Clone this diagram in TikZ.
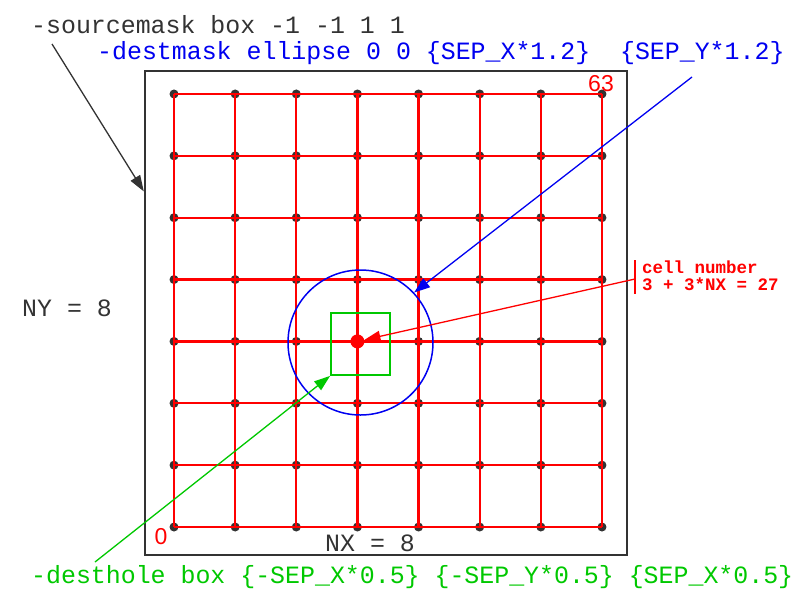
\documentclass[tikz,border=0pt]{standalone}
\usepackage{fontspec}
\setmainfont{Liberation Mono}
\newfontfamily\numfont{Liberation Sans}
\usetikzlibrary{arrows.meta,calc}

\begin{document}
\begin{tikzpicture}[x=1pt,y=-1pt,
	gridline/.style={red,line width=2.4pt},
	gridpt/.style={circle,fill=framegray,inner sep=0pt,minimum size=9pt},
	callout/.style={line width=1.3pt,-{Triangle[length=16pt,width=11pt]}},
	bigtext/.style={font=\fontsize{24.9}{26}\selectfont,inner sep=0pt,anchor=west}]
	\definecolor{framegray}{HTML}{333333}
	\definecolor{maskblue}{HTML}{0000F0}
	\definecolor{holegreen}{HTML}{00C800}
	\useasboundingbox (0,0) rectangle (800,600);
	\node[draw=framegray,line width=2.4pt,minimum width=482pt,minimum height=484pt,inner sep=0pt] (frame) at (386,313) {};
	% 8 x 8 grid, cell 0 bottom left
	\foreach \i in {0,...,7}
		\foreach \j in {0,...,7}
			\node[gridpt] (p\i\j) at (174+61.14*\i, 527-61.86*\j) {};
	\foreach \i in {0,...,7}{
		\draw[gridline] (p\i0.center) -- (p\i7.center);
		\draw[gridline] (p0\i.center) -- (p7\i.center);
	}
	\node[text=red,font=\numfont\fontsize{23}{23}\selectfont,inner sep=0pt] (last) at (601,84) {63};
	\node[text=red,font=\numfont\fontsize{23}{23}\selectfont,inner sep=0pt] (first) at (161,537) {0};
	\node[draw=maskblue,circle,line width=1.5pt,minimum size=145pt,inner sep=0pt] (destmask) at (360.5,342.5) {};
	\node[draw=holegreen,line width=1.8pt,minimum width=59pt,minimum height=62pt,inner sep=0pt] (desthole) at (360.5,344) {};
	\node[circle,fill=red,minimum size=14pt,inner sep=0pt] (cell) at (p33) {};
	% labels
	\node[bigtext,text=framegray] (srctext) at (31,25) {-sourcemask box -1 -1 1 1};
	\node[bigtext,text=maskblue] (dsttext) at (97,53) {-destmask ellipse 0 0 \{SEP\_X*1.2\}\ \ \{SEP\_Y*1.2\}};
	\node[bigtext,text=holegreen] (holetext) at (31,577) {-desthole box \{-SEP\_X*0.5\} \{-SEP\_Y*0.5\} \{SEP\_X*0.5\}};
	\node[bigtext,text=framegray] (nytext) at (22,308) {NY = 8};
	\node[bigtext,text=framegray] (nxtext) at (325,543) {NX = 8};
	\node[text=red,font=\bfseries\fontsize{17.5}{17}\selectfont,align=left,anchor=west,inner sep=0pt] (celltext) at (642,276) {cell number\\3 + 3*NX = 27};
	\draw[red,line width=1.5pt] (635,260) -- (635,294);
	% arrows
	\coordinate (srcfoot) at (52,44);
	\coordinate (dstfoot) at (692,77);
	\coordinate (cellfoot) at (635,279);
	\coordinate (holefoot) at (95,562);
	\draw[callout,framegray] (srcfoot) -- ($(frame.north west)!0.25!(frame.south west)$);
	\draw[callout,maskblue] (dstfoot) -- (destmask.43);
	\draw[callout,red] (cellfoot) -- (cell);
	\draw[callout,holegreen] (holefoot) -- (desthole.south west);
\end{tikzpicture}
\end{document}
